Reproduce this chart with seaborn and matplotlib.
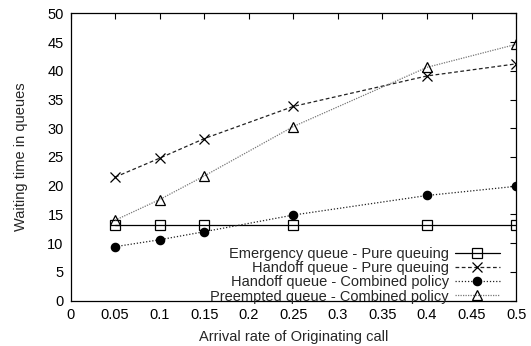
import seaborn as sns
import matplotlib.pyplot as plt
import matplotlib.ticker as mticker

sns.set_style("white")
plt.rcParams['font.family'] = ['Liberation Sans', 'DejaVu Sans']

rates = [0.05, 0.1, 0.15, 0.25, 0.4, 0.5]
emergency_pure = [13.2, 13.2, 13.2, 13.2, 13.2, 13.2]
handoff_pure = [21.5, 24.8, 28.2, 33.8, 39.1, 41.2]
handoff_combined = [9.4, 10.6, 12.0, 14.9, 18.3, 19.9]
preempted_combined = [14.0, 17.6, 21.7, 30.3, 40.6, 44.6]

labels = ["Emergency queue - Pure queuing",
          "Handoff queue - Pure queuing",
          "Handoff queue - Combined policy",
          "Preempted queue - Combined policy"]

fs = 10.5
fig = plt.figure(figsize=(5.31, 3.46), dpi=100)
ax = fig.add_axes([0.133, 0.131, 0.839, 0.8306])

# (values, marker, linestyle, color, marker face, marker size)
styles = [
    (emergency_pure, "s", "-", "black", "none", 7),
    (handoff_pure, "x", (0, (3, 2)), "#222222", "none", 7),
    (handoff_combined, "o", (0, (1, 1.5)), "#222222", "black", 6),
    (preempted_combined, "^", (0, (1, 1)), "#777777", "none", 7),
]

for (vals, mk, ls, col, mfc, ms), lab in zip(styles, labels):
    sns.lineplot(x=rates, y=vals, ax=ax, marker=mk, linestyle=ls, color=col,
                 markerfacecolor=mfc, markeredgecolor="black", markersize=ms,
                 markeredgewidth=0.9, linewidth=0.9, label=lab)

ax.set_xlim(0, 0.5)
ax.set_ylim(0, 50)
ax.xaxis.set_major_locator(mticker.MultipleLocator(0.05))
ax.yaxis.set_major_locator(mticker.MultipleLocator(5))
ax.xaxis.set_major_formatter(mticker.FuncFormatter(lambda v, p: "%g" % round(v, 2)))
ax.tick_params(direction="in", top=True, right=True, length=4, width=0.8,
               labelsize=fs, colors="black", pad=5)
for s in ax.spines.values():
    s.set_color("black")
    s.set_linewidth(0.9)

ax.set_xlabel("Arrival rate of Originating call", fontsize=fs, labelpad=6)
ax.set_ylabel("Waiting time in queues", fontsize=fs, labelpad=14)

ax.legend(loc="lower right", bbox_to_anchor=(0.964, -0.01), frameon=False,
          markerfirst=False, fontsize=fs, handlelength=3.1, labelspacing=0.02,
          borderaxespad=0, borderpad=0, handletextpad=0.4)

fig.savefig("out.png", dpi=100)
